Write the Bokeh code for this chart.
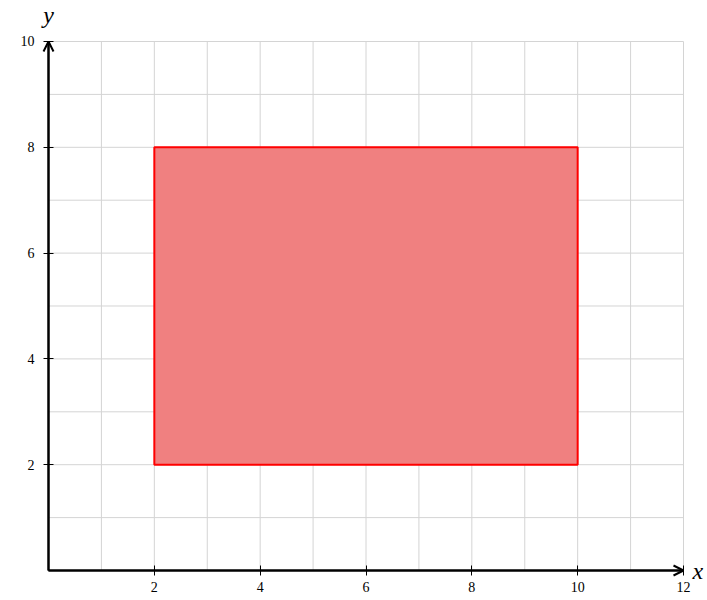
from bokeh.plotting import figure
from bokeh.models import FixedTicker, Arrow, OpenHead, Label, Range1d
from bokeh.embed import file_html
from bokeh.resources import INLINE

# Data
rect_left = [2]
rect_right = [10]
rect_bottom = [2]
rect_top = [8]
x_ticks = [2, 4, 6, 8, 10, 12]
y_ticks = [2, 4, 6, 8, 10]
x_grid = [1, 2, 3, 4, 5, 6, 7, 8, 9, 10, 11, 12]
y_grid = [1, 2, 3, 4, 5, 6, 7, 8, 9, 10]
x_max = 12
y_max = 10

FONT = "Liberation Serif"

p = figure(width=707, height=600, output_backend="svg", toolbar_location=None,
           x_range=Range1d(-0.9071, 12.4535), y_range=Range1d(-0.5671, 10.775),
           min_border_left=0, min_border_right=0, min_border_top=0, min_border_bottom=0)

p.outline_line_color = None
p.xgrid.visible = False
p.ygrid.visible = False

grid_color = "#d4d4d4"
p.segment(x0=x_grid, y0=[0] * len(x_grid), x1=x_grid, y1=[y_max] * len(x_grid),
          line_color=grid_color, line_width=1)
p.segment(x0=[0] * len(y_grid), y0=y_grid, x1=[x_max] * len(y_grid), y1=y_grid,
          line_color=grid_color, line_width=1)

p.xaxis.ticker = FixedTicker(ticks=x_ticks)
p.yaxis.ticker = FixedTicker(ticks=y_ticks)
p.xaxis.fixed_location = 0
p.yaxis.fixed_location = 0
p.xaxis.bounds = (0, x_max)
p.yaxis.bounds = (0, y_max)
for ax in (p.xaxis, p.yaxis):
    ax.axis_line_color = "black"
    ax.axis_line_width = 2
    ax.major_tick_in = 5
    ax.major_tick_out = 5
    ax.major_tick_line_color = "black"
    ax.major_tick_line_width = 1
    ax.minor_tick_line_color = None
    ax.major_label_text_font = FONT
    ax.major_label_text_font_size = "14px"
    ax.major_label_text_color = "black"
p.xaxis.major_label_standoff = 6
p.yaxis.major_label_standoff = 9

p.quad(left=rect_left, right=rect_right, bottom=rect_bottom, top=rect_top,
       fill_color="#F08080", fill_alpha=1.0, line_color="red", line_width=2)

p.add_layout(Arrow(end=OpenHead(size=10, line_width=2, line_color="black"),
                   x_start=0, y_start=0, x_end=x_max, y_end=0,
                   line_color="black", line_width=2))
p.add_layout(Arrow(end=OpenHead(size=10, line_width=2, line_color="black"),
                   x_start=0, y_start=0, x_end=0, y_end=y_max,
                   line_color="black", line_width=2))

p.add_layout(Label(x=x_max, y=0, x_offset=9, text="x", text_font=FONT,
                   text_font_style="italic", text_font_size="24px", text_color="black",
                   text_baseline="middle", text_align="left"))
p.add_layout(Label(x=0, y=y_max, y_offset=13, text="y", text_font=FONT,
                   text_font_style="italic", text_font_size="24px", text_color="black",
                   text_baseline="bottom", text_align="center"))

open("out.html", "w").write(file_html(p, INLINE))
